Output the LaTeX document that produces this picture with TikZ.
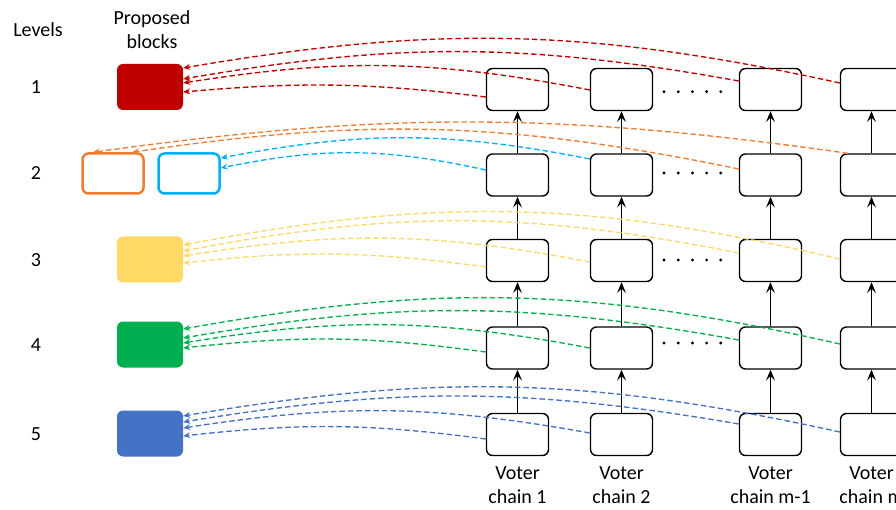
\documentclass[tikz,border=0pt]{standalone}
\usepackage{fontspec}
\setmainfont{Carlito}
\usetikzlibrary{arrows.meta,calc}
\definecolor{cred}{HTML}{C00000}
\definecolor{corange}{HTML}{ED7D31}
\definecolor{ccyan}{HTML}{00B0F0}
\definecolor{cyellow}{HTML}{FFD966}
\definecolor{cgreen}{HTML}{00B050}
\definecolor{cblue}{HTML}{4472C4}
\begin{document}
\begin{tikzpicture}[x=1pt,y=1pt,
  chainbox/.style={draw=black, line width=1.4pt, rounded corners=6pt, minimum width=62pt, minimum height=42pt, inner sep=0pt},
  blk/.style={rounded corners=6pt, minimum width=66pt, minimum height=46pt, inner sep=0pt},
  oblk/.style={draw, line width=2.5pt, rounded corners=6pt, minimum width=61pt, minimum height=40pt, inner sep=0pt},
  uparrow/.style={-{Stealth[length=11pt,width=9pt,inset=4.5pt]}, line width=1.4pt},
  vote/.style={line width=1.35pt, dash pattern=on 5.5pt off 3pt, -{Stealth[length=7pt,width=6pt,inset=2.5pt]}},
  lbl/.style={font=\fontsize{20}{24}\selectfont, align=center, inner sep=0pt}
]
\useasboundingbox (0,0) rectangle (896,-510);

% headers and level labels
\node[lbl] (hlev) at (38,-30) {Levels};
\node[lbl] (hprop) at (152,-30) {Proposed\\blocks};
\node[lbl] (l1) at (36,-87) {1};
\node[lbl] (l2) at (36,-173) {2};
\node[lbl] (l3) at (36,-260) {3};
\node[lbl] (l4) at (36,-345) {4};
\node[lbl] (l5) at (36,-434) {5};

% proposed blocks
\node[blk, fill=cred] (p1) at (150,-87) {};
\node[oblk, draw=corange] (p2o) at (113,-173.5) {};
\node[oblk, draw=ccyan] (p2b) at (189,-173.5) {};
\node[blk, fill=cyellow] (p3) at (150,-259.5) {};
\node[blk, fill=cgreen] (p4) at (150,-344.5) {};
\node[blk, fill=cblue] (p5) at (150,-433.5) {};

% voter chains
\foreach \c/\x in {1/517.5,2/621.5,3/770.5,4/871.5}{
  \foreach \r/\y in {1/89.5,2/175,3/260.5,4/348,5/434.5}{
    \node[chainbox] (c\c r\r) at (\x,-\y) {};
  }
  \foreach \r [count=\s from 2] in {1,2,3,4}{
    \draw[uparrow] (c\c r\s.north) -- (c\c r\r.south);
  }
}
\node[lbl] (v1) at (517.5,-485) {Voter\\chain 1};
\node[lbl] (v2) at (621.5,-485) {Voter\\chain 2};
\node[lbl] (v3) at (770.5,-485) {Voter\\chain m-1};
\node[lbl] (v4) at (871.5,-485) {Voter\\chain m};

% dots
\foreach \y in {91.7,173,260,343}{
  \foreach \i in {0,...,4}{
    \fill (664+14.2*\i,-\y) circle (1.6);
  }
}

% level 1
\draw[vote,cred] ([yshift=6.5]c4r1.west) to[bend right=11] ([yshift=19]p1.east);
\draw[vote,cred] ([yshift=8.5]c3r1.west) to[bend right=10] ([yshift=8]p1.east);
\draw[vote,cred] ([yshift=-0.5]c2r1.west) to[bend right=10] ([yshift=4]p1.east);
\draw[vote,cred] ([yshift=-7.5]c1r1.west) to[bend right=6] ([yshift=-5]p1.east);
% level 2
\draw[vote,corange] ([xshift=8]c4r2.north west) to[bend right=8] ([xshift=-20]p2o.north);
\draw[vote,corange] ([yshift=6]c3r2.west) to[bend right=10] ([xshift=19]p2o.north);
\draw[vote,ccyan] ([yshift=16]c2r2.west) to[bend right=11] ([yshift=15.5]p2b.east);
\draw[vote,ccyan] ([yshift=5]c1r2.west) to[bend right=12] ([yshift=5.5]p2b.east);
% level 3
\draw[vote,cyellow] ([yshift=1.5]c4r3.west) to[bend right=12] ([yshift=14.5]p3.east);
\draw[vote,cyellow] ([yshift=7.5]c3r3.west) to[bend right=11] ([yshift=8.5]p3.east);
\draw[vote,cyellow] ([yshift=-1.5]c2r3.west) to[bend right=10] ([yshift=3.5]p3.east);
\draw[vote,cyellow] ([yshift=-6.5]c1r3.west) to[bend right=7] ([yshift=-3.5]p3.east);
% level 4
\draw[vote,cgreen] ([yshift=4]c4r4.west) to[bend right=11.5] ([yshift=15.5]p4.east);
\draw[vote,cgreen] ([yshift=8]c3r4.west) to[bend right=10] ([yshift=6.5]p4.east);
\draw[vote,cgreen] ([yshift=0]c2r4.west) to[bend right=10] ([yshift=1.5]p4.east);
\draw[vote,cgreen] ([yshift=-4]c1r4.west) to[bend right=7] ([yshift=-3.5]p4.east);
% level 5
\draw[vote,cblue] ([yshift=2.5]c4r5.west) to[bend right=11] ([yshift=17.5]p5.east);
\draw[vote,cblue] ([yshift=10.5]c3r5.west) to[bend right=9.5] ([yshift=11.5]p5.east);
\draw[vote,cblue] ([yshift=1.5]c2r5.west) to[bend right=9.5] ([yshift=5.5]p5.east);
\draw[vote,cblue] ([yshift=-4.5]c1r5.west) to[bend right=7] ([yshift=-2.5]p5.east);
\end{tikzpicture}
\end{document}
